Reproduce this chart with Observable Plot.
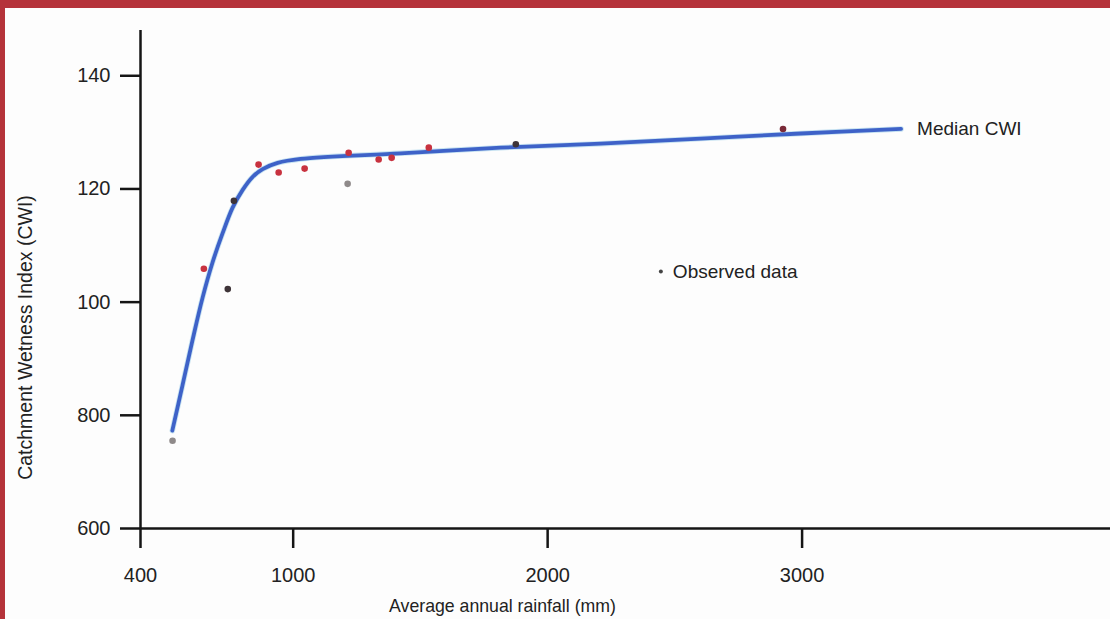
<!DOCTYPE html>
<html><head><meta charset="utf-8">
<script src="https://cdn.jsdelivr.net/npm/d3@7"></script>
<script src="https://cdn.jsdelivr.net/npm/@observablehq/plot@0.6"></script>
<style>
html,body{margin:0;padding:0;width:1110px;height:619px;overflow:hidden;background:#b5333a;}
#chart{position:absolute;left:5px;top:8px;width:1105px;height:611px;background:#fdfdfd;}
#chart svg{display:block;background:transparent;}
</style></head><body><div id="chart"></div>
<script>
// Observed data
const rainfall = [526, 649, 743, 767, 864, 943, 1045, 1214, 1218, 1336, 1387, 1533, 1875, 2925];
const cwi      = [75.5, 105.9, 102.3, 117.9, 124.3, 122.9, 123.6, 120.9, 126.4, 125.2, 125.5, 127.3, 127.9, 130.6];
const tone     = ["grey","red","dark","dark","red","red","red","grey","red","red","red","red","dark","darkred"];

// Median CWI curve
const curveRain = [525, 565, 604, 644, 683, 722, 762, 801, 840, 880, 939, 1029, 1422, 1816, 2209, 2602, 2995, 3389];
const curveCwi  = [77.3, 85.3, 93.2, 100.8, 107.0, 112.1, 116.7, 119.8, 122.1, 123.5, 124.6, 125.3, 126.3, 127.3, 128.0, 128.9, 129.8, 130.6];

// Axes
const xTicks = [400, 1000, 2000, 3000];
const yTicks = [60, 80, 100, 120, 140];
const yTickLabels = ["600", "800", "100", "120", "140"];
const xTitle = "Average annual rainfall (mm)";
const yTitle = "Catchment Wetness Index (CWI)";
const curveLabel = "Median CWI";
const legendLabel = "Observed data";
const legendRain = [2445];
const legendCwi = [105.4];

const points = rainfall.map((r, i) => ({rain: r, cwi: cwi[i], tone: tone[i]}));
const curve = curveRain.map((r, i) => ({rain: r, cwi: curveCwi[i]}));
const legend = legendRain.map((r, i) => ({rain: r, cwi: legendCwi[i], label: legendLabel}));
const last = curve[curve.length - 1];

const ink = "#151515";
const font = "Liberation Sans, Arial, sans-serif";

const chart = Plot.plot({
  width: 1105,
  height: 611,
  marginLeft: 135,
  marginRight: 0,
  marginTop: 22,
  marginBottom: 91,
  style: {fontFamily: font, fontSize: "20px", color: "#222", background: "transparent"},
  x: {domain: [400, 4212], axis: null},
  y: {domain: [60, 148], axis: null},
  color: {domain: ["red", "dark", "grey", "darkred"], range: ["#c8323f", "#3e3438", "#8f8a8a", "#7a2a38"]},
  marks: [
    Plot.ruleY([60], {stroke: ink, strokeWidth: 2.5}),
    Plot.ruleX([400], {stroke: ink, strokeWidth: 2.5}),
    Plot.axisX(xTicks, {tickSize: 20, tickPadding: 19, stroke: ink, strokeWidth: 2.5, fill: "#222", fontSize: 20, label: null, tickFormat: d => String(d)}),
    Plot.axisY(yTicks, {tickSize: 20, tickPadding: 10, stroke: ink, strokeWidth: 2.5, fill: "#222", fontSize: 20, label: null, tickFormat: d => yTickLabels[yTicks.indexOf(d)]}),
    Plot.line(curve, {x: "rain", y: "cwi", stroke: "#62b3dc", strokeOpacity: 0.35, strokeWidth: 5.5, curve: "catmull-rom"}),
    Plot.line(curve, {x: "rain", y: "cwi", stroke: "#3e62c8", strokeWidth: 3.8, curve: "catmull-rom"}),
    Plot.dot(points, {x: "rain", y: "cwi", r: 3.3, fill: "tone", stroke: null}),
    Plot.text([last], {x: "rain", y: "cwi", text: () => curveLabel, dx: 16, textAnchor: "start", fontSize: 19, fill: "#222"}),
    Plot.dot(legend, {x: "rain", y: "cwi", r: 2, fill: "#444"}),
    Plot.text(legend, {x: "rain", y: "cwi", text: "label", dx: 12, textAnchor: "start", fontSize: 19, fill: "#222"}),
    Plot.text([xTitle], {frameAnchor: "bottom", textAnchor: "middle", lineAnchor: "middle", dx: -123, dy: 78, fontSize: 17.7, fill: "#222"}),
    Plot.text([yTitle], {frameAnchor: "left", textAnchor: "middle", lineAnchor: "middle", rotate: -90, dx: -115, dy: 58, fontSize: 19.5, fill: "#222"})
  ]
});
document.getElementById("chart").appendChild(chart);
</script>
</body></html>
